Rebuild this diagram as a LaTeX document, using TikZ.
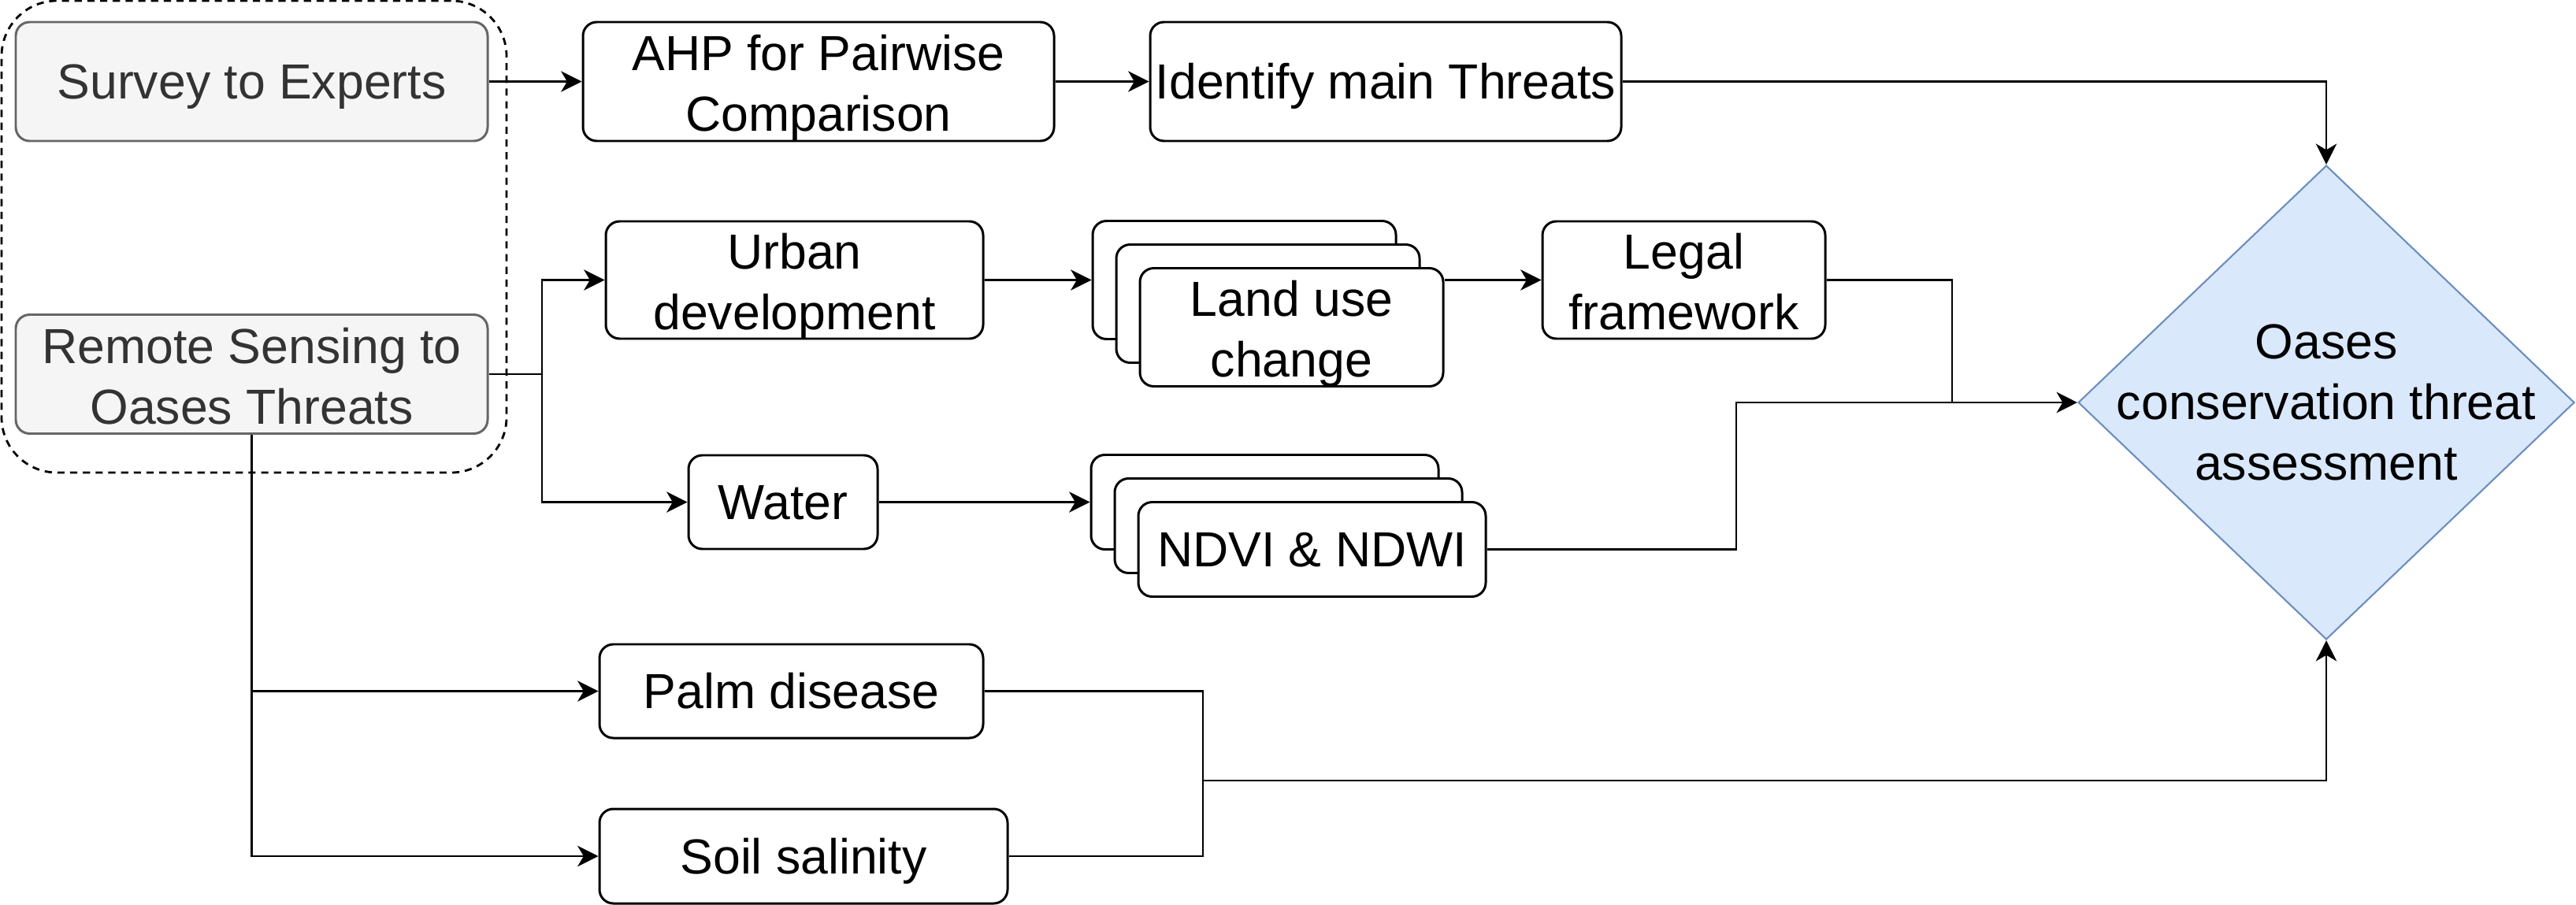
\documentclass[tikz,border=0pt]{standalone}
\usepackage{fontspec}
\setmainfont{Liberation Sans}
\usetikzlibrary{arrows.meta, positioning, shapes.geometric}

\definecolor{greyfill}{HTML}{F5F5F5}
\definecolor{greydraw}{HTML}{666666}
\definecolor{greytext}{HTML}{333333}
\definecolor{bluefill}{HTML}{DAE8FC}
\definecolor{bluedraw}{HTML}{6C8EBF}

\begin{document}
\begin{tikzpicture}[
    x=1cm, y=-1cm,
    box/.style={rectangle, draw, line width=0.85pt, rounded corners=5pt, fill=white,
                align=center, inner sep=0pt},
    oneline/.style={text height=12.75pt, text depth=0pt},
    twoline/.style={text height=36.06pt, text depth=0pt},
    greybox/.style={box, fill=greyfill, draw=greydraw, text=greytext,
                minimum width=5.99cm, minimum height=1.51cm},
    group/.style={rectangle, draw, dash pattern=on 2.6pt off 2pt, line width=0.8pt,
                rounded corners=20pt, minimum width=6.41cm, minimum height=5.99cm},
    decision/.style={diamond, draw=bluedraw, fill=bluefill, line width=0.6pt,
                minimum width=6.3cm, minimum height=6.02cm, inner sep=0pt},
    arrow/.style={-{Stealth[length=7.5pt, width=7.5pt, inset=2.2pt]}, line width=0.8pt},
    link/.style={line width=0.8pt},
    every node/.style={font=\fontsize{17.8pt}{21.9pt}\selectfont}
]
\useasboundingbox (0,0) rectangle (32.7,11.49);

% Inputs
\node[group] (inputs) at (3.225,3.005) {};
\node[greybox, oneline] (survey) at (3.195,1.035) {Survey to Experts};
\node[greybox, twoline] (remote) at (3.195,4.75) {Remote Sensing to\\Oases Threats};

% Expert branch
\node[box, twoline, minimum width=5.98cm, minimum height=1.51cm] (ahp) at (10.39,1.035) {AHP for Pairwise\\Comparison};
\node[box, oneline, minimum width=5.98cm, minimum height=1.51cm] (identify) at (17.59,1.035) {Identify main Threats};

% Remote sensing branch
\node[box, twoline, minimum width=4.79cm, minimum height=1.49cm] (urban) at (10.085,3.555) {Urban\\development};
\node[box, minimum width=3.85cm, minimum height=1.5cm] (landA) at (15.795,3.555) {};
\node[box, minimum width=3.85cm, minimum height=1.5cm] (landB) at ([shift={(0.3,0.3)}]landA) {};
\node[box, twoline, minimum width=3.85cm, minimum height=1.5cm] (landC) at ([shift={(0.3,0.3)}]landB) {Land use\\change};
\node[box, twoline, minimum width=3.59cm, minimum height=1.49cm] (legal) at (21.375,3.555) {Legal\\framework};

\node[box, oneline, minimum width=2.4cm, minimum height=1.19cm] (water) at (9.94,6.375) {Water};
\node[box, minimum width=4.41cm, minimum height=1.2cm] (ndviA) at (16.055,6.375) {};
\node[box, minimum width=4.41cm, minimum height=1.2cm] (ndviB) at ([shift={(0.3,0.3)}]ndviA) {};
\node[box, oneline, minimum width=4.41cm, minimum height=1.2cm] (ndviC) at ([shift={(0.3,0.3)}]ndviB) {NDVI \& NDWI};

\node[box, oneline, minimum width=4.87cm, minimum height=1.19cm] (palm) at (10.045,8.775) {Palm disease};
\node[box, oneline, minimum width=5.18cm, minimum height=1.2cm] (soil) at (10.2,10.87) {Soil salinity};

% Assessment
\node[decision, label={[align=center]center:Oases\\conservation threat\\assessment}] (assess) at (29.53,5.11) {};

% Connectors
\coordinate (split) at (6.88,4.75);
\coordinate (mergeA) at (24.78,5.11);
\coordinate (bendN) at (22.04,5.11);
\coordinate (mergeB) at (15.27,9.91);

\draw[arrow] (survey) -- (ahp);
\draw[arrow] (ahp) -- (identify);
\draw[arrow] (identify) -| (assess);

\draw[link] (remote.east) -- (split);
\draw[arrow] (split) |- (urban);
\draw[arrow] (split) |- (water);
\draw[arrow] (urban) -- (landA);
\draw[arrow] (landC.east |- legal.west) -- (legal.west);
\draw[arrow] (water) -- (ndviA);
\draw[arrow] (legal.east) -| (mergeA) -- (assess.west);
\draw[link] (ndviC.east) -| (bendN) -- (mergeA);

\draw[arrow] (remote.south) |- (soil.west);
\draw[arrow] (remote.south |- palm.west) -- (palm.west);
\draw[link] (palm.east) -| (mergeB) |- (soil.east);
\draw[arrow] (mergeB) -| (assess.south);

\end{tikzpicture}
\end{document}
